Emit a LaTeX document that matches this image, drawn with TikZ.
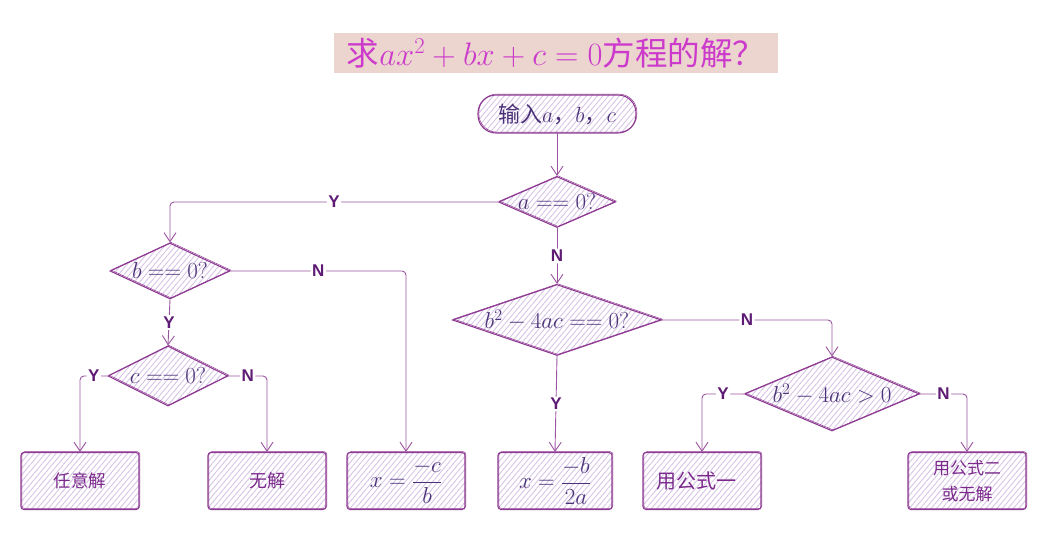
\RequirePackage{fix-cm}
\documentclass[tikz,border=0pt]{standalone}
\usepackage{fontspec}
\newfontfamily\cjk{Noto Sans CJK SC}
\newfontfamily\lab{Liberation Sans}
\usetikzlibrary{shapes.geometric,arrows.meta,patterns.meta}
\definecolor{edge}{HTML}{8E3A92}
\definecolor{linec}{HTML}{9C55A0}
\definecolor{hatch}{HTML}{D6C4E6}
\definecolor{mtext}{HTML}{4B3278}
\definecolor{ctext}{HTML}{7B2A8C}
\definecolor{labc}{HTML}{5E1A75}
\definecolor{titlebg}{HTML}{ECD4CF}
\definecolor{titletx}{HTML}{CC3ACC}
\newcommand{\mfs}{\fontsize{23}{27}\selectfont}
\tikzset{
  sk/.style={draw=edge, line width=1.1pt,
    pattern={Lines[angle=50,distance=4.2pt,line width=0.9pt]}, pattern color=hatch,
    postaction={draw=edge, line width=0.5pt, transform canvas={shift={(0.9pt,0.9pt)}}}},
  dec/.style={sk, diamond, inner sep=-1pt, font=\mfs, text=mtext},
  outbox/.style={sk, rectangle, rounded corners=3pt, minimum width=118pt, minimum height=57pt,
    text=ctext, align=center, inner sep=2pt},
  conn/.style={draw=linec, line width=0.9pt, rounded corners=4pt,
    -{Straight Barb[length=9pt,width=12pt,line width=0.9pt]}},
  lbl/.style={fill=white, inner sep=1.5pt, font=\lab\bfseries\fontsize{17}{20}\selectfont, text=labc},
}
\begin{document}
\begin{tikzpicture}[x=1pt,y=-1pt]
\useasboundingbox (0,0) rectangle (1055,540);
% title
\node[fill=titlebg, minimum width=444pt, minimum height=40pt, inner sep=0pt, text=titletx,
  font=\fontsize{32.5}{36}\selectfont] (title) at (556,53)
  {{\cjk 求}$ax^2+bx+c=0${\cjk 方程的解？}};
% start
\node[sk, rectangle, rounded corners=18pt, minimum width=158pt, minimum height=38pt,
  font=\fontsize{22}{26}\selectfont, text=mtext, inner sep=0pt] (start) at (557,114) {{\cjk 输入}$a${\cjk ，}$b${\cjk ，}$c$};
% decisions
\node[dec, aspect=2.3, minimum width=117pt, minimum height=51pt] (da) at (557,202) {$a==0?$};
\node[dec, aspect=2.2, minimum width=120pt, minimum height=56pt] (db) at (170,271) {$b==0?$};
\node[dec, aspect=2.0, minimum width=120pt, minimum height=60pt] (dc) at (168,376) {$c==0?$};
\node[dec, aspect=3.0, minimum width=209pt, minimum height=71pt] (dd) at (557,320) {$b^2-4ac==0?$};
\node[dec, aspect=2.36, minimum width=175pt, minimum height=74pt] (de) at (832,394) {$b^2-4ac>0$};
% outputs
\node[outbox, font=\cjk\fontsize{17.5}{22}\selectfont] (o1) at (80,481) {任意解};
\node[outbox, font=\cjk\fontsize{18}{22}\selectfont] (o2) at (267,481) {无解};
\node[outbox, font=\mfs, text=mtext] (o3) at (406,481) {$\displaystyle x=\frac{-c}{b}$};
\node[outbox, font=\mfs, text=mtext, minimum width=114pt] (o4) at (555,481) {$\displaystyle x=\frac{-b}{2a}$};
\node[outbox, font=\cjk\fontsize{20}{24}\selectfont] (o5) at (702,481) {用公式一\hspace*{12pt}};
\node[outbox, font=\cjk\fontsize{17}{26}\selectfont] (o6) at (967,481) {用公式二\\或无解};
% connectors
\draw[conn] (start) -- (da);
\draw[conn] (da.west) -| (db.north) node[lbl, pos=0.25] {Y};
\draw[conn] (da.south) -- (dd.north) node[lbl, midway] {N};
\draw[conn] (db.east) -| (o3.north) node[lbl, pos=0.25] {N};
\draw[conn] (db.south) -- (dc.north) node[lbl, midway] {Y};
\draw[conn] (dc.west) -| (o1.north) node[lbl, pos=0.25] {Y};
\draw[conn] (dc.east) -| (o2.north) node[lbl, pos=0.25] {N};
\draw[conn] (dd.south) -- (o4.north) node[lbl, midway] {Y};
\draw[conn] (dd.east) -| (de.north) node[lbl, pos=0.25] {N};
\draw[conn] (de.west) -| (o5.north) node[lbl, pos=0.25] {Y};
\draw[conn] (de.east) -| (o6.north) node[lbl, pos=0.25] {N};
\end{tikzpicture}
\end{document}
